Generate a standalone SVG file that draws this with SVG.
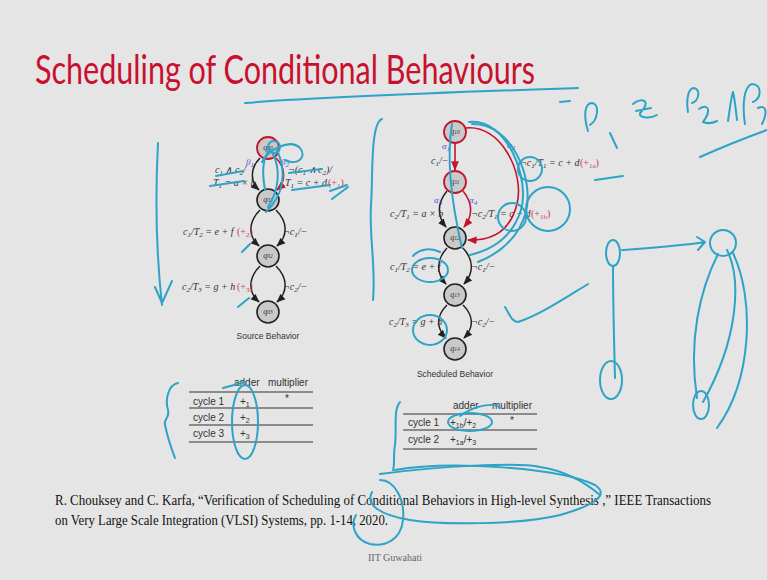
<svg xmlns="http://www.w3.org/2000/svg" width="767" height="580" viewBox="0 0 767 580">
<defs>
<marker id="ab" viewBox="0 0 10 10" refX="9" refY="5" markerWidth="6" markerHeight="6" orient="auto"><path d="M0,1 L10,5 L0,9 z" fill="#222"/></marker>
<marker id="ar" viewBox="0 0 10 10" refX="9" refY="5" markerWidth="6" markerHeight="6" orient="auto"><path d="M0,1 L10,5 L0,9 z" fill="#c3142d"/></marker>
<style>
.lbl{font-family:"Liberation Serif",serif;font-style:italic;font-size:10px;fill:#333}
.s{font-size:7px}
.red{fill:#d23a55;font-style:normal}
.gr{fill:#5a4fd0;font-size:9px}
.nd{fill:#c9c9c9;stroke:#222;stroke-width:1.6}
.ndr{fill:#c9c9c9;stroke:#c3142d;stroke-width:1.8}
.nl{font-family:"Liberation Serif",serif;font-style:italic;font-size:8px;text-anchor:middle;fill:#333}
.e{fill:none;stroke:#222;stroke-width:1.5;marker-end:url(#ab)}
.er{fill:none;stroke:#c3142d;stroke-width:1.6;marker-end:url(#ar)}
.sans{font-family:"Liberation Sans",sans-serif;font-size:10px;fill:#333}
.cap{font-family:"Liberation Sans",sans-serif;font-size:8.5px;fill:#333;text-anchor:middle}
.tl{stroke:#333;stroke-width:1.2}
.ann{fill:none;stroke:#2ea3c8;stroke-width:2;stroke-linecap:round;stroke-linejoin:round}
</style>
</defs>
<rect width="767" height="580" fill="#e5e5e5"/>

<text x="35" y="84" font-family="Lato, 'Open Sans', sans-serif" font-size="40" fill="#c8102e" textLength="500" lengthAdjust="spacingAndGlyphs">Scheduling of Conditional Behaviours</text>

<!-- Connectors -->
<g id="connectors">
<path class="e" d="M260,158 C250,168 250,182 259,190"/>
<path class="er" d="M276,158 C286,168 286,182 277,190"/>
<path class="e" d="M260,210 C248,222 248,236 259,246"/>
<path class="e" d="M276,210 C288,222 288,236 277,246"/>
<path class="e" d="M260,266 C248,278 248,292 259,302"/>
<path class="e" d="M276,266 C288,278 288,292 277,302"/>

<path class="er" d="M455,144 L455,170"/>
<path class="e" d="M447,191 C437,203 437,216 446,227"/>
<path class="er" d="M463,191 C473,203 473,216 464,227"/>
<path class="er" d="M466,128 C500,124 525,172 517,204 C510,232 492,241 468,240"/>
<path class="e" d="M447,248 C436,260 436,273 446,284"/>
<path class="e" d="M463,248 C474,260 474,273 464,284"/>
<path class="e" d="M447,305 C436,316 436,328 446,338"/>
<path class="e" d="M463,305 C474,316 474,328 464,338"/>
</g>

<!-- Source behavior nodes -->
<g id="q00"><circle class="ndr" cx="268" cy="148" r="11"/><text class="nl" x="268" y="150">q<tspan font-size="5.5">00</tspan></text></g>
<g id="q01"><circle class="nd" cx="268" cy="200" r="11"/><text class="nl" x="268" y="202">q<tspan font-size="5.5">01</tspan></text></g>
<g id="q02"><circle class="nd" cx="268" cy="256" r="11"/><text class="nl" x="268" y="258">q<tspan font-size="5.5">02</tspan></text></g>
<g id="q03"><circle class="nd" cx="268" cy="312" r="11"/><text class="nl" x="268" y="314">q<tspan font-size="5.5">03</tspan></text></g>

<!-- Scheduled behavior nodes -->
<g id="q10"><circle class="ndr" cx="455" cy="132" r="11"/><text class="nl" x="455" y="134">q<tspan font-size="5.5">10</tspan></text></g>
<g id="q11"><circle class="ndr" cx="455" cy="182" r="11"/><text class="nl" x="455" y="184">q<tspan font-size="5.5">11</tspan></text></g>
<g id="q12"><circle class="nd" cx="455" cy="238" r="11"/><text class="nl" x="455" y="240">q<tspan font-size="5.5">12</tspan></text></g>
<g id="q13"><circle class="nd" cx="455" cy="295" r="11"/><text class="nl" x="455" y="297">q<tspan font-size="5.5">13</tspan></text></g>
<g id="q14"><circle class="nd" cx="455" cy="349" r="11"/><text class="nl" x="455" y="351">q<tspan font-size="5.5">14</tspan></text></g>

<!-- Source labels -->
<g id="source-labels">
<text class="lbl" x="215" y="173">c<tspan class="s" dy="2">1</tspan><tspan dy="-2"> ∧ c</tspan><tspan class="s" dy="2">2</tspan><tspan dy="-2">/</tspan></text>
<text class="lbl" x="213" y="186">T<tspan class="s" dy="2">1</tspan><tspan dy="-2"> = a × b</tspan></text>
<text class="lbl gr" x="246" y="165">β<tspan class="s" dy="2">1</tspan></text>
<text class="lbl gr" x="281" y="165">β<tspan class="s" dy="2">2</tspan></text>
<text class="lbl" x="288" y="173">¬(c<tspan class="s" dy="2">1</tspan><tspan dy="-2"> ∧ c</tspan><tspan class="s" dy="2">2</tspan><tspan dy="-2">)/</tspan></text>
<text class="lbl" x="285" y="186">T<tspan class="s" dy="2">1</tspan><tspan dy="-2"> = c + d</tspan></text>
<text class="lbl red" x="328" y="186">(+<tspan class="s" dy="2">1</tspan><tspan dy="-2">)</tspan></text>
<text class="lbl" x="183" y="235">c<tspan class="s" dy="2">1</tspan><tspan dy="-2">/T</tspan><tspan class="s" dy="2">2</tspan><tspan dy="-2"> = e + f</tspan></text>
<text class="lbl red" x="237" y="235">(+<tspan class="s" dy="2">2</tspan><tspan dy="-2">)</tspan></text>
<text class="lbl" x="283" y="235">¬c<tspan class="s" dy="2">1</tspan><tspan dy="-2">/−</tspan></text>
<text class="lbl" x="182" y="290">c<tspan class="s" dy="2">2</tspan><tspan dy="-2">/T</tspan><tspan class="s" dy="2">3</tspan><tspan dy="-2"> = g + h</tspan></text>
<text class="lbl red" x="237" y="290">(+<tspan class="s" dy="2">3</tspan><tspan dy="-2">)</tspan></text>
<text class="lbl" x="283" y="290">¬c<tspan class="s" dy="2">2</tspan><tspan dy="-2">/−</tspan></text>
<text class="cap" x="268" y="339">Source Behavior</text>
</g>

<!-- Scheduled labels -->
<g id="scheduled-labels">
<text class="lbl" x="431" y="164">c<tspan class="s" dy="2">1</tspan><tspan dy="-2">/−</tspan></text>
<text class="lbl gr" x="442" y="149">α<tspan class="s" dy="2">1</tspan></text>
<text class="lbl gr" x="507" y="148">α<tspan class="s" dy="2">2</tspan></text>
<text class="lbl" x="520" y="166">¬c<tspan class="s" dy="2">1</tspan><tspan dy="-2">/T</tspan><tspan class="s" dy="2">1</tspan><tspan dy="-2"> = c + d</tspan></text>
<text class="lbl red" x="580" y="166">(+<tspan class="s" dy="2">1a</tspan><tspan dy="-2">)</tspan></text>
<text class="lbl gr" x="434" y="203">α<tspan class="s" dy="2">3</tspan></text>
<text class="lbl gr" x="469" y="203">α<tspan class="s" dy="2">4</tspan></text>
<text class="lbl" x="390" y="217">c<tspan class="s" dy="2">2</tspan><tspan dy="-2">/T</tspan><tspan class="s" dy="2">1</tspan><tspan dy="-2"> = a × b</tspan></text>
<text class="lbl" x="471" y="217">¬c<tspan class="s" dy="2">2</tspan><tspan dy="-2">/T</tspan><tspan class="s" dy="2">1</tspan><tspan dy="-2"> = c + d</tspan></text>
<text class="lbl red" x="531" y="217">(+<tspan class="s" dy="2">1b</tspan><tspan dy="-2">)</tspan></text>
<text class="lbl" x="390" y="270">c<tspan class="s" dy="2">1</tspan><tspan dy="-2">/T</tspan><tspan class="s" dy="2">2</tspan><tspan dy="-2"> = e + f</tspan></text>
<text class="lbl" x="471" y="270">¬c<tspan class="s" dy="2">1</tspan><tspan dy="-2">/−</tspan></text>
<text class="lbl" x="389" y="325">c<tspan class="s" dy="2">2</tspan><tspan dy="-2">/T</tspan><tspan class="s" dy="2">3</tspan><tspan dy="-2"> = g + h</tspan></text>
<text class="lbl" x="471" y="325">¬c<tspan class="s" dy="2">2</tspan><tspan dy="-2">/−</tspan></text>
<text class="cap" x="455" y="377">Scheduled Behavior</text>
</g>

<!-- Left table -->
<g id="table-source">
<text class="sans" x="234" y="386">adder</text>
<text class="sans" x="268" y="386">multiplier</text>
<line class="tl" x1="189" y1="392" x2="313" y2="392"/>
<line class="tl" x1="189" y1="408" x2="313" y2="408"/>
<line class="tl" x1="189" y1="425" x2="313" y2="425"/>
<line class="tl" x1="189" y1="442" x2="313" y2="442"/>
<text class="sans" x="193" y="405">cycle 1</text>
<text class="sans" x="193" y="421">cycle 2</text>
<text class="sans" x="193" y="437">cycle 3</text>
<text class="sans" x="240" y="405">+<tspan font-size="7" dy="2">1</tspan></text>
<text class="sans" x="240" y="421">+<tspan font-size="7" dy="2">2</tspan></text>
<text class="sans" x="240" y="437">+<tspan font-size="7" dy="2">3</tspan></text>
<text class="sans" x="285" y="402">*</text>
</g>

<!-- Right table -->
<g id="table-scheduled">
<text class="sans" x="453" y="409">adder</text>
<text class="sans" x="492" y="409">multiplier</text>
<line class="tl" x1="403" y1="414" x2="537" y2="414"/>
<line class="tl" x1="403" y1="430" x2="537" y2="430"/>
<line class="tl" x1="403" y1="449" x2="537" y2="449"/>
<text class="sans" x="408" y="426">cycle 1</text>
<text class="sans" x="408" y="443">cycle 2</text>
<text class="sans" x="450" y="426">+<tspan font-size="7" dy="2">1b</tspan><tspan dy="-2">/+</tspan><tspan font-size="7" dy="2">2</tspan></text>
<text class="sans" x="450" y="443">+<tspan font-size="7" dy="2">1a</tspan><tspan dy="-2">/+</tspan><tspan font-size="7" dy="2">3</tspan></text>
<text class="sans" x="510" y="424">*</text>
</g>

<!-- Reference -->
<g id="reference" font-family="'Liberation Serif', serif" fill="#111">
<text x="55" y="505" font-size="15" textLength="656" lengthAdjust="spacingAndGlyphs">R. Chouksey and C. Karfa, “Verification of Scheduling of Conditional Behaviors in High-level Synthesis ,” IEEE Transactions</text>
<text x="55" y="525" font-size="15" textLength="333" lengthAdjust="spacingAndGlyphs">on Very Large Scale Integration (VLSI) Systems, pp. 1-14, 2020.</text>
<text x="395" y="561" font-size="10" fill="#666" text-anchor="middle">IIT Guwahati</text>
</g>

<!-- Handwritten annotations -->
<g id="annotations" class="ann">
<path d="M245,103 C330,96 460,92 578,88"/>
<path d="M560,102 L570,101"/>
<path d="M588,131 C583,115 585,103 592,103 C600,104 598,120 590,125"/>
<path d="M610,133 L617,148"/>
<path d="M633,104 C641,97 652,100 641,112 C636,118 650,119 657,115 M636,111 L651,108"/>
<path d="M688,112 C686,100 688,88 694,88 C701,89 699,101 692,103 M699,109 C708,103 712,110 703,122 C708,124 713,123 717,121"/>
<path d="M728,121 C730,108 731,98 733,92 C735,100 736,112 737,120"/>
<path d="M745,124 C742,105 744,86 752,84 C762,84 762,98 753,102 M758,108 C766,104 768,112 762,124"/>
<path d="M700,157 C720,148 745,138 767,130"/>
<path d="M158,143 C155,200 157,260 162,305 M155,287 L162,303 L172,281"/>
<path d="M382,119 C370,123 373,180 371,205 C369,235 376,268 373,300"/>
<path d="M210,186 L244,181 M216,176 L243,171 M289,173 L322,169 M292,190 L330,185 M330,191 L347,185 M332,199 L348,187"/>
<circle cx="274" cy="147" r="6"/>
<path d="M262,162 C268,150 290,138 300,148 C308,158 296,166 285,160"/>
<path d="M272,152 C282,170 278,192 268,207 M277,150 C288,175 282,196 266,212 M270,148 C262,160 262,172 265,190"/>
<path d="M242,252 L250,244 M238,307 L249,298"/>
<path d="M452,124 C446,160 452,205 462,248"/>
<path d="M469,122 C508,118 530,180 521,210 C512,238 492,250 470,255"/>
<path d="M472,124 C512,123 534,178 526,212 C518,240 498,254 478,262"/>
<ellipse cx="530" cy="169" rx="12" ry="12"/>
<path d="M595,180 L623,176"/>
<circle cx="548" cy="209" r="22"/>
<circle cx="512" cy="217" r="14"/>
<ellipse cx="430" cy="270" rx="18" ry="12"/>
<ellipse cx="430" cy="330" rx="17" ry="15"/>
<path d="M413,256 C420,248 432,248 440,252"/>
<path d="M505,307 C510,315 512,322 518,322 C540,315 565,298 588,284"/>
<ellipse cx="613" cy="253" rx="7" ry="13"/>
<path d="M613,266 C613,300 614,340 615,378"/>
<ellipse cx="611" cy="380" rx="11" ry="19"/>
<path d="M622,250 C650,248 680,246 705,242 M697,237 L705,242 L698,250"/>
<circle cx="723" cy="243" r="13"/>
<path d="M718,254 C700,290 688,340 697,398"/>
<path d="M727,250 C742,280 738,340 703,402"/>
<path d="M733,253 C755,300 752,380 717,428"/>
<ellipse cx="701" cy="405" rx="8" ry="14"/>
<path d="M178,383 C168,385 165,400 168,410 C170,418 163,420 165,425 C168,440 172,450 175,458"/>
<ellipse cx="245" cy="422" rx="13" ry="37"/>
<path d="M223,388 L245,382"/>
<path d="M400,402 C393,410 397,430 395,445 C393,455 395,465 393,470"/>
<path d="M380,474 C440,466 520,462 540,467 C560,470 580,478 600,495"/>
<ellipse cx="470" cy="422" rx="22" ry="9"/>
<path d="M460,416 C475,405 495,402 500,408"/>
<path d="M395,470 C450,460 560,468 595,485 C610,495 595,505 560,515 C520,525 440,525 410,520 C380,515 365,505 372,492"/>
<path d="M380,480 C395,480 405,500 403,520 C401,540 385,547 370,544 C355,540 350,525 356,515"/>
</g>
</svg>
